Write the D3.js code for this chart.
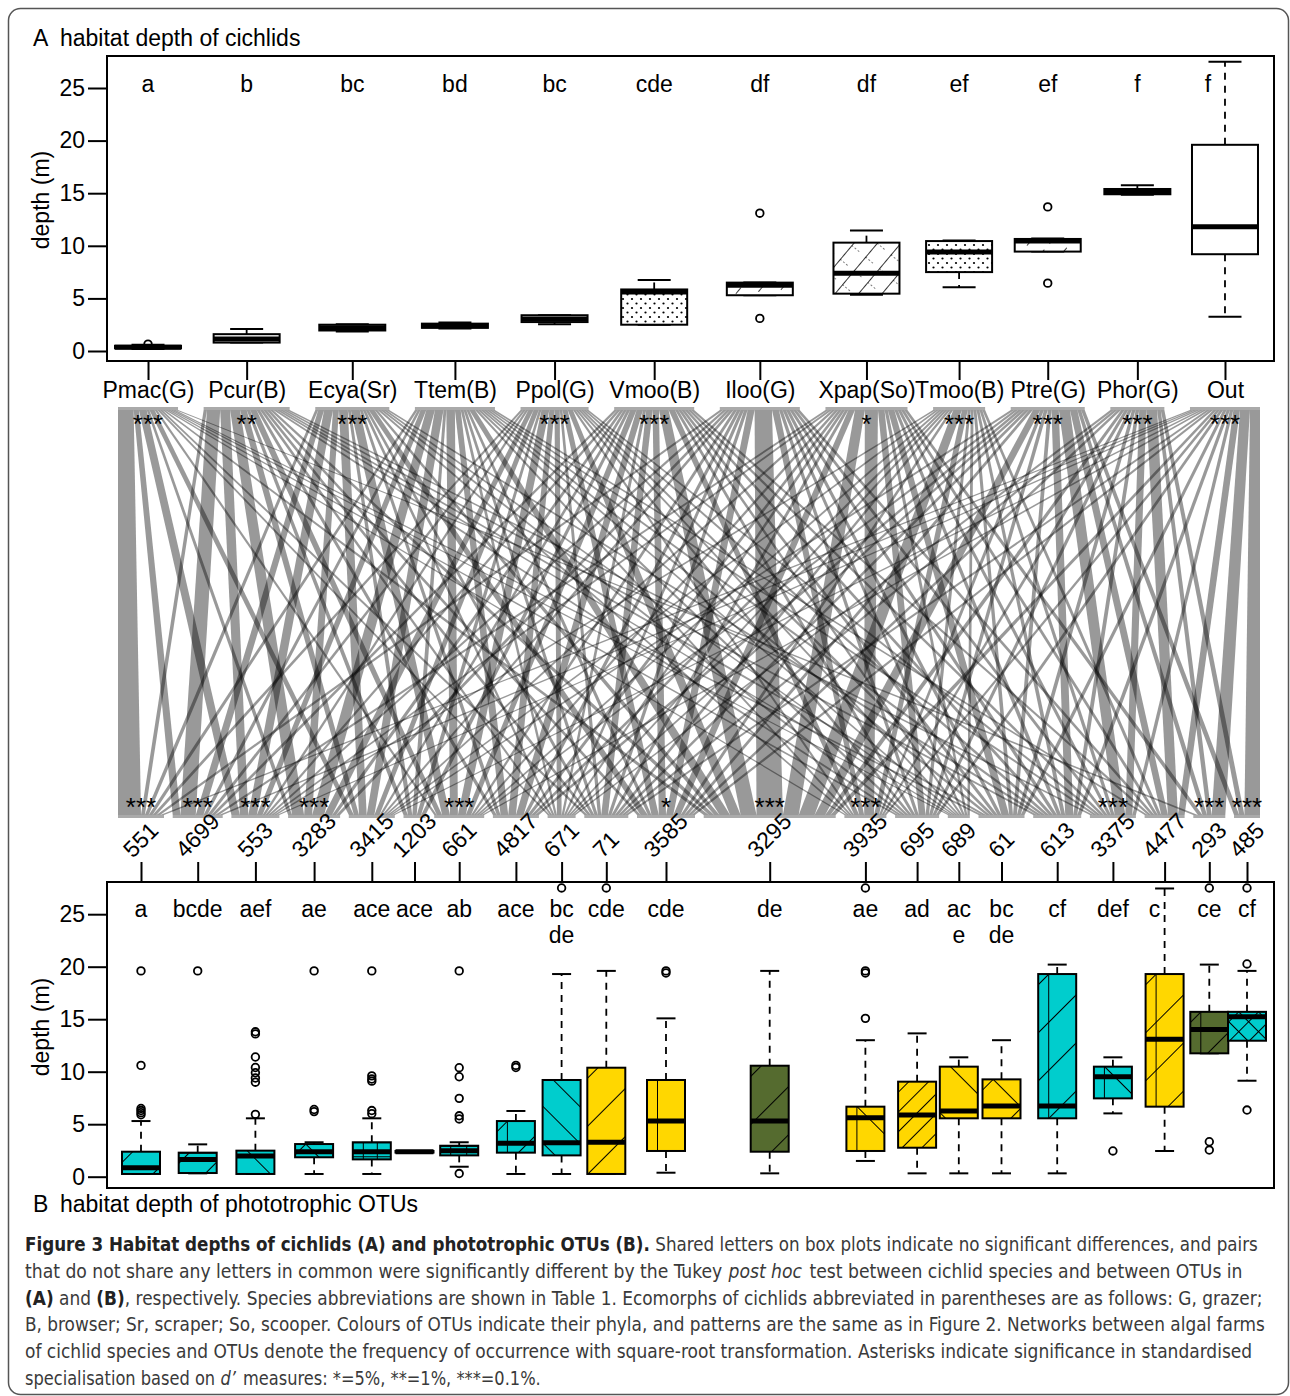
<!DOCTYPE html>
<html>
<head>
<meta charset="utf-8">
<script src="https://cdn.jsdelivr.net/npm/d3@7"></script>
<style>
  body { margin: 0; background: #fff; }
  text { font-family: "Liberation Sans", Arial, Helvetica, sans-serif; }
</style>
</head>
<body>
<div id="chart"></div>
<script>
// ---------- data ----------
var cichlids = ["Pmac(G)", "Pcur(B)", "Ecya(Sr)", "Ttem(B)", "Ppol(G)", "Vmoo(B)", "Iloo(G)", "Xpap(So)", "Tmoo(B)", "Ptre(G)", "Phor(G)", "Out"];
var cichlidLetters = ["a", "b", "bc", "bd", "bc", "cde", "df", "df", "ef", "ef", "f", "f"];
var cichlidStars = ["***", "**", "***", "", "***", "***", "", "*", "***", "***", "***", "***"];
// total occurrence of each cichlid (width of its bar in the web)
var cichlidTotal = [60, 86, 74, 80, 68, 80, 80, 82, 52, 74, 54, 70];
// [lower whisker, Q1, median, Q3, upper whisker], depth in m
var cichlidBox = [
  [0.2, 0.25, 0.35, 0.5, 0.6],
  [0.8, 0.8, 1.15, 1.6, 2.1],
  [1.85, 1.95, 2.2, 2.5, 2.55],
  [2.15, 2.2, 2.4, 2.6, 2.7],
  [2.55, 2.75, 3.05, 3.4, 3.4],
  [2.5, 2.5, 5.6, 5.85, 6.75],
  [5.3, 5.3, 6.25, 6.5, 6.5],
  [5.35, 5.45, 7.4, 10.3, 11.45],
  [6.05, 7.5, 9.4, 10.45, 10.5],
  [9.45, 9.45, 10.45, 10.65, 10.7],
  [14.85, 14.9, 15.15, 15.4, 15.75],
  [3.25, 9.2, 11.8, 19.6, 27.5]
];
var cichlidOutliers = [[0.65], [], [], [], [], [], [13.1, 3.1], [], [], [13.7, 6.45], [], []];

var otus = ["551", "4699", "553", "3283", "3415", "1203", "661", "4817", "671", "71", "3585", "3295", "3935", "695", "689", "61", "613", "3375", "4477", "293", "485"];
var otuLetters = ["a", "bcde", "aef", "ae", "ace", "ace", "ab", "ace", "bc\nde", "cde", "cde", "de", "ae", "ad", "ac\ne", "bc\nde", "cf", "def", "c", "ce", "cf"];
var otuStars = ["***", "***", "***", "***", "", "", "***", "", "", "", "*", "***", "***", "", "", "", "", "***", "", "***", "***"];
var otuPhylum = ["Cyanobacteria", "Cyanobacteria", "Cyanobacteria", "Cyanobacteria", "Cyanobacteria", "Cyanobacteria", "Cyanobacteria",
  "Cyanobacteria", "Cyanobacteria", "Bacillariophyta", "Bacillariophyta", "Chlorophyta", "Bacillariophyta", "Bacillariophyta",
  "Bacillariophyta", "Bacillariophyta", "Cyanobacteria", "Cyanobacteria", "Bacillariophyta", "Chlorophyta", "Cyanobacteria"];
// total occurrence of each OTU (width of its bar in the web)
var otuTotal = [46, 50, 48, 52, 46, 22, 50, 46, 28, 44, 58, 132, 42, 44, 22, 46, 48, 46, 40, 32, 26];
var otuBox = [
  [0.26, 0.26, 0.86, 2.38, 5.3],
  [0.32, 0.35, 1.65, 2.29, 3.08],
  [0.26, 0.26, 1.97, 2.48, 5.56],
  [0.26, 1.85, 2.38, 3.11, 3.28],
  [0.26, 1.65, 2.38, 3.28, 5.56],
  [2.3, 2.3, 2.38, 2.45, 2.45],
  [0.95, 2.03, 2.48, 2.95, 3.28],
  [0.26, 2.29, 3.18, 5.3, 6.26],
  [0.26, 2.03, 3.24, 9.21, 19.3],
  [0.26, 0.26, 3.28, 10.38, 19.6],
  [0.38, 2.45, 5.3, 9.21, 15.08],
  [0.32, 2.38, 5.3, 10.57, 19.6],
  [1.5, 2.45, 5.62, 6.67, 13.0],
  [0.32, 2.76, 5.88, 9.05, 13.65],
  [0.32, 5.56, 6.26, 10.48, 11.37],
  [0.32, 5.56, 6.73, 9.27, 13.0],
  [0.32, 5.56, 6.73, 19.3, 20.2],
  [6.03, 7.46, 9.52, 10.48, 11.37],
  [2.45, 6.67, 13.08, 19.3, 27.45],
  [11.75, 11.75, 14.03, 15.7, 20.2],
  [9.14, 12.95, 15.24, 15.7, 19.6]
];
var otuOutliers = [
  [5.9, 6.1, 6.3, 6.5, 10.6, 19.6], [19.6], [5.94, 9.0, 9.4, 9.9, 10.4, 11.4, 13.6, 13.8], [6.2, 6.4, 19.6],
  [6.0, 6.3, 9.1, 9.3, 9.6, 19.6], [], [0.3, 5.5, 5.8, 7.46, 9.52, 10.38, 19.6], [10.4, 10.6], [27.5], [27.5],
  [19.4, 19.6], [], [15.08, 19.4, 19.6, 27.5], [], [], [], [], [2.45], [], [3.33, 2.54, 27.5], [20.26, 6.35, 27.5]
];

// sqrt-transformed frequency of co-occurrence, rows = cichlids, columns = OTUs
var webMatrix = [
  [6, 2, 3, 1, 2, 0, 1, 0, 1, 1, 0, 1, 1, 1, 1, 1, 0, 0, 0, 1, 0],
  [1, 4, 3, 3, 2, 1, 2, 1, 1, 1, 1, 1, 0, 1, 1, 1, 1, 1, 0, 0, 0],
  [1, 2, 3, 2, 3, 1, 3, 1, 1, 1, 2, 1, 1, 1, 1, 0, 1, 0, 0, 0, 0],
  [1, 1, 2, 3, 3, 1, 3, 2, 1, 1, 1, 2, 1, 1, 1, 1, 1, 1, 1, 0, 0],
  [1, 1, 1, 2, 2, 1, 3, 2, 2, 1, 2, 2, 1, 1, 1, 1, 1, 1, 0, 0, 0],
  [0, 1, 1, 1, 1, 1, 2, 2, 1, 2, 2, 3, 2, 1, 1, 1, 1, 1, 1, 0, 0],
  [1, 0, 1, 1, 1, 0, 1, 1, 1, 1, 2, 5, 2, 1, 1, 1, 1, 1, 1, 0, 0],
  [0, 1, 1, 0, 1, 0, 1, 1, 1, 1, 2, 3, 4, 2, 1, 2, 1, 1, 1, 1, 0],
  [0, 0, 1, 0, 1, 0, 1, 1, 1, 1, 1, 3, 2, 1, 1, 1, 1, 1, 1, 0, 0],
  [0, 0, 0, 0, 1, 0, 1, 1, 1, 1, 1, 2, 1, 1, 0, 1, 2, 3, 2, 1, 1],
  [0, 0, 0, 0, 0, 0, 0, 0, 1, 1, 1, 1, 1, 1, 0, 1, 1, 2, 3, 1, 1],
  [1, 1, 1, 0, 1, 0, 1, 0, 0, 1, 1, 1, 1, 1, 0, 1, 1, 1, 2, 3, 3]
];

var depthTicks = [0, 5, 10, 15, 20, 25];

// ---------- styles ----------
var phylumColour = d3.scaleOrdinal()
    .domain(["Cyanobacteria", "Bacillariophyta", "Chlorophyta"])
    .range(["#00CDCD", "#FFD700", "#556B2F"]);
// fill pattern of the cichlid boxes
var cichlidHatch = ["none", "none", "none", "none", "none", "dots", "dash", "zig", "dots", "dash", "none", "none"];
// hatching of OTU boxes: [angle, spacing] line sets
var otuHatch = [
  [[45, 30]], [[45, 26], [90, 30]], [[-45, 40]], [[45, 30], [-45, 30]], [[0, 14], [90, 14]], [],
  [[0, 16], [90, 14]], [[45, 30], [0, 40]], [[-45, 26]], [[45, 34]], [[0, 30]], [[45, 34]],
  [[-45, 40], [0, 40]], [[45, 14]], [[-45, 40]], [[45, 40], [-45, 40]], [[45, 34], [0, 40]],
  [[0, 40], [-45, 40]], [[45, 34], [0, 40]], [[45, 34], [0, 40]], [[45, 14], [-45, 14]]
];
// letters pushed aside so they clear a whisker
var letterShiftA = {11: -17};
var letterShiftB = {18: -10};
var fs = "23px";

var W = 1290, H = 1396;
var netLeft = 118, netRight = 1260;
var topGap = 25.6, botGap = 8.7;   // spacing between bars, in the same units as the totals
var yWebTop = 410, yWebBot = 815;

var svg = d3.select("#chart").append("svg")
    .attr("width", W)
    .attr("height", H);

var defs = svg.append("defs");

// outer frame
svg.append("rect")
    .attr("x", 8.5).attr("y", 8.5)
    .attr("width", 1280).attr("height", 1386)
    .attr("rx", 12)
    .attr("fill", "none")
    .attr("stroke", "#555")
    .attr("stroke-width", 1.5);

// ---------- bar layout of the web ----------
function barLayout(totals, gap) {
  var span = d3.sum(totals) + gap * (totals.length - 1);
  var x = d3.scaleLinear().domain([0, span]).range([netLeft, netRight]);
  var acc = 0, bars = [];
  totals.forEach(function(t) {
    bars.push({x0: x(acc), x1: x(acc + t), cx: x(acc + t / 2)});
    acc += t + gap;
  });
  return bars;
}
var topBars = barLayout(cichlidTotal, topGap);
var botBars = barLayout(otuTotal, botGap);

// ---------- panel A ----------
var yA = d3.scaleLinear().domain([0, 25]).range([351, 88]);
var xA = d3.scaleOrdinal().domain(cichlids).range(topBars.map(function(b) { return b.cx; }));

svg.append("text").attr("x", 33).attr("y", 46).style("font-size", fs).text("A");
svg.append("text").attr("x", 60).attr("y", 46).style("font-size", fs).text("habitat depth of cichlids");

svg.append("g")
    .attr("transform", "translate(107,0)")
    .call(d3.axisLeft(yA).tickValues(depthTicks).tickSize(19).tickPadding(3))
    .call(styleAxis);

svg.append("g")
    .attr("transform", "translate(0,361)")
    .call(d3.axisBottom(xA).tickSize(19).tickPadding(2))
    .call(styleAxis);

svg.append("text")
    .attr("transform", "translate(49,200) rotate(-90)")
    .attr("text-anchor", "middle")
    .style("font-size", fs)
    .text("depth (m)");

svg.append("g").selectAll("text")
    .data(cichlidLetters)
    .enter()
    .append("text")
      .attr("x", function(d, i) { return topBars[i].cx + (letterShiftA[i] || 0); })
      .attr("y", 92)
      .attr("text-anchor", "middle")
      .style("font-size", fs)
      .text(function(d) { return d; });

// patterns for cichlid boxes
var dots = defs.append("pattern").attr("id", "dots").attr("patternUnits", "userSpaceOnUse")
    .attr("width", 9).attr("height", 9);
dots.append("circle").attr("cx", 2).attr("cy", 2).attr("r", 1.1).attr("fill", "#000");
dots.append("circle").attr("cx", 6.5).attr("cy", 6.5).attr("r", 1.1).attr("fill", "#000");
var dash = defs.append("pattern").attr("id", "dash").attr("patternUnits", "userSpaceOnUse")
    .attr("width", 16).attr("height", 16).attr("patternTransform", "rotate(40)");
dash.append("line").attr("x1", 0).attr("y1", 0).attr("x2", 0).attr("y2", 8)
    .attr("stroke", "#000").attr("stroke-width", 1.5);
var zig = defs.append("pattern").attr("id", "zig").attr("patternUnits", "userSpaceOnUse")
    .attr("width", 18).attr("height", 18).attr("patternTransform", "rotate(40)");
zig.append("line").attr("x1", 0).attr("y1", 0).attr("x2", 0).attr("y2", 18)
    .attr("stroke", "#000").attr("stroke-width", 1.6);
zig.append("line").attr("x1", 0).attr("y1", 0).attr("x2", 12).attr("y2", 0)
    .attr("stroke", "#000").attr("stroke-width", 1.2).attr("stroke-dasharray", "2,2");

var gA = svg.append("g");
cichlids.forEach(function(c, i) {
  var hatch = cichlidHatch[i] === "none" ? [] : ["url(#" + cichlidHatch[i] + ")"];
  drawBox(gA, topBars[i].cx, 66, cichlidBox[i], cichlidOutliers[i], yA, "#fff", hatch);
});

svg.append("rect")
    .attr("x", 107).attr("y", 56).attr("width", 1167).attr("height", 305)
    .attr("fill", "none").attr("stroke", "#000").attr("stroke-width", 2);

// ---------- bipartite web ----------
var rowSum = webMatrix.map(function(r) { return d3.sum(r); });
var colSum = otus.map(function(o, j) { return d3.sum(webMatrix, function(r) { return r[j]; }); });
var topUsed = cichlids.map(function() { return 0; });
var botUsed = otus.map(function() { return 0; });
var links = [];
webMatrix.forEach(function(row, i) {
  row.forEach(function(v, j) {
    if (!v) return;
    var tw = (topBars[i].x1 - topBars[i].x0) * v / rowSum[i];
    var bw = (botBars[j].x1 - botBars[j].x0) * v / colSum[j];
    var t0 = topBars[i].x0 + topUsed[i], b0 = botBars[j].x0 + botUsed[j];
    topUsed[i] += tw; botUsed[j] += bw;
    links.push([[t0, yWebTop], [t0 + tw, yWebTop], [b0 + bw, yWebBot], [b0, yWebBot]]);
  });
});

svg.append("g")
  .selectAll("path")
  .data(links)
  .enter()
  .append("path")
    .attr("d", function(d) { return "M" + d.join("L") + "Z"; })
    .attr("fill", "#000")
    .attr("fill-opacity", 0.4);

svg.append("g").selectAll("rect")
    .data(topBars).enter().append("rect")
      .attr("x", function(d) { return d.x0; }).attr("y", yWebTop - 3)
      .attr("width", function(d) { return d.x1 - d.x0; }).attr("height", 3)
      .attr("fill", "#aaa");
svg.append("g").selectAll("rect")
    .data(botBars).enter().append("rect")
      .attr("x", function(d) { return d.x0; }).attr("y", yWebBot)
      .attr("width", function(d) { return d.x1 - d.x0; }).attr("height", 3)
      .attr("fill", "#aaa");

svg.append("g").selectAll("text")
    .data(cichlidStars).enter().append("text")
      .attr("x", function(d, i) { return topBars[i].cx; })
      .attr("y", 433)
      .attr("text-anchor", "middle")
      .style("font-size", "26px")
      .text(function(d) { return d; });
svg.append("g").selectAll("text")
    .data(otuStars).enter().append("text")
      .attr("x", function(d, i) { return botBars[i].cx; })
      .attr("y", 816)
      .attr("text-anchor", "middle")
      .style("font-size", "26px")
      .text(function(d) { return d; });

// ---------- panel B ----------
var yB = d3.scaleLinear().domain([0, 25]).range([1176.7, 914.2]);
var xB = d3.scaleOrdinal().domain(otus).range(botBars.map(function(b) { return b.cx; }));

svg.append("g")
    .attr("transform", "translate(107,0)")
    .call(d3.axisLeft(yB).tickValues(depthTicks).tickSize(19).tickPadding(3))
    .call(styleAxis);

var topAxis = svg.append("g")
    .attr("transform", "translate(0,882)")
    .call(d3.axisTop(xB).tickSize(20))
    .call(styleAxis);
topAxis.selectAll(".tick text").remove();

svg.append("g").selectAll("text")
    .data(otus).enter().append("text")
      .style("font-size", fs)
      .text(function(d) { return d; })
      .attr("transform", function(d, i) {
        var len = this.getComputedTextLength();
        return "translate(" + (botBars[i].cx - 0.354 * (len - 15)) + ",859) rotate(-45)";
      });

svg.append("text")
    .attr("transform", "translate(49,1027) rotate(-90)")
    .attr("text-anchor", "middle")
    .style("font-size", fs)
    .text("depth (m)");

var gB = svg.append("g");
otus.forEach(function(o, j) {
  var x0 = botBars[j].cx - 19, y0 = yB(otuBox[j][3]);
  var fills = otuHatch[j].map(function(h, k) {
    var id = "h" + j + "_" + k;
    var p = defs.append("pattern").attr("id", id).attr("patternUnits", "userSpaceOnUse")
        .attr("width", h[1]).attr("height", h[1])
        .attr("patternTransform", "translate(" + (x0 + 10) + "," + y0 + ") rotate(" + h[0] + ")");
    p.append("line").attr("x1", 0).attr("y1", -1).attr("x2", 0).attr("y2", h[1] + 1)
        .attr("stroke", "#000").attr("stroke-width", 2);
    return "url(#" + id + ")";
  });
  drawBox(gB, botBars[j].cx, 38, otuBox[j], otuOutliers[j], yB, phylumColour(otuPhylum[j]), fills);
});

svg.append("g").selectAll("text")
    .data(otuLetters).enter().append("text")
      .attr("x", function(d, i) { return botBars[i].cx + (letterShiftB[i] || 0); })
      .attr("y", 917)
      .attr("text-anchor", "middle")
      .style("font-size", fs)
    .selectAll("tspan")
    .data(function(d) { return d.split("\n"); })
    .enter().append("tspan")
      .attr("x", function() { return this.parentNode.getAttribute("x"); })
      .attr("dy", function(d, k) { return k ? 26 : 0; })
      .text(function(d) { return d; });

svg.append("rect")
    .attr("x", 107).attr("y", 882).attr("width", 1167).attr("height", 306)
    .attr("fill", "none").attr("stroke", "#000").attr("stroke-width", 2);

svg.append("text").attr("x", 33).attr("y", 1212).style("font-size", fs).text("B");
svg.append("text").attr("x", 60).attr("y", 1212).style("font-size", fs).text("habitat depth of phototrophic OTUs");

// ---------- caption ----------
var caption = [
  [["b", "Figure 3 Habitat depths of cichlids (A) and phototrophic OTUs (B)."], ["", "\u00a0Shared letters on box plots indicate no significant differences, and pairs"]],
  [["", "that do not share any letters in common were significantly different by the Tukey\u00a0"], ["i", "post hoc"], ["", "\u00a0test between cichlid species and between OTUs in"]],
  [["b", "(A)"], ["", "\u00a0and\u00a0"], ["b", "(B)"], ["", ", respectively. Species abbreviations are shown in Table 1. Ecomorphs of cichlids abbreviated in parentheses are as follows: G, grazer;"]],
  [["", "B, browser; Sr, scraper; So, scooper. Colours of OTUs indicate their phyla, and patterns are the same as in Figure 2. Networks between algal farms"]],
  [["", "of cichlid species and OTUs denote the frequency of occurrence with square-root transformation. Asterisks indicate significance in standardised"]],
  [["", "specialisation based on\u00a0"], ["i", "d\u2019"], ["", "\u00a0measures: *=5%, **=1%, ***=0.1%."]]
];
var captionWidth = [1233, 1218, 1238, 1241, 1228, 516];

// each line: segments laid out one after another, then the line is squeezed to its width
caption.forEach(function(line, i) {
  var g = svg.append("g");
  var x = 0;
  line.forEach(function(seg) {
    var t = g.append("text")
        .attr("x", x)
        .attr("y", 0)
        .style("font-family", "'Liberation Sans Narrow', 'DejaVu Sans Condensed', sans-serif")
        .style("font-size", "19px")
        .style("font-weight", seg[0] === "b" ? "bold" : "normal")
        .style("font-style", seg[0] === "i" ? "italic" : "normal")
        .attr("fill", seg[0] === "b" ? "#222" : "#3a3a3a")
        .text(seg[1]);
    x += t.node().getComputedTextLength() + (seg[0] === "i" ? 2 : 0);
  });
  g.attr("transform", "translate(25," + (1251 + i * 26.8) + ") scale(" + (captionWidth[i] / x) + ",1)");
});

// ---------- helpers ----------
function styleAxis(g) {
  g.select(".domain").remove();
  g.selectAll(".tick line").attr("stroke", "#000").attr("stroke-width", 2);
  g.selectAll(".tick text").attr("fill", "#000").style("font-size", fs);
}

function drawBox(g, cx, w, s, outl, y, fill, hatches) {
  var cap = w / 2;
  // whiskers
  g.append("line").attr("x1", cx).attr("x2", cx).attr("y1", y(s[3])).attr("y2", y(s[4]))
      .attr("stroke", "#000").attr("stroke-width", 1.8).attr("stroke-dasharray", "7,6");
  g.append("line").attr("x1", cx).attr("x2", cx).attr("y1", y(s[1])).attr("y2", y(s[0]))
      .attr("stroke", "#000").attr("stroke-width", 1.8).attr("stroke-dasharray", "7,6");
  [s[0], s[4]].forEach(function(v) {
    g.append("line").attr("x1", cx - cap / 2).attr("x2", cx + cap / 2).attr("y1", y(v)).attr("y2", y(v))
        .attr("stroke", "#000").attr("stroke-width", 2);
  });
  var bx = cx - w / 2, by = y(s[3]), bh = Math.max(y(s[1]) - y(s[3]), 1);
  g.append("rect").attr("x", bx).attr("y", by).attr("width", w).attr("height", bh).attr("fill", fill);
  hatches.forEach(function(h) {
    g.append("rect").attr("x", bx).attr("y", by).attr("width", w).attr("height", bh).attr("fill", h);
  });
  g.append("rect").attr("x", bx).attr("y", by).attr("width", w).attr("height", bh)
      .attr("fill", "none").attr("stroke", "#000").attr("stroke-width", 2);
  g.append("line").attr("x1", bx).attr("x2", bx + w).attr("y1", y(s[2])).attr("y2", y(s[2]))
      .attr("stroke", "#000").attr("stroke-width", 5);
  g.selectAll(null).data(outl).enter().append("circle")
      .attr("cx", cx).attr("cy", function(d) { return y(d); }).attr("r", 3.8)
      .attr("fill", "none").attr("stroke", "#000").attr("stroke-width", 1.8);
}
</script>
</body>
</html>
